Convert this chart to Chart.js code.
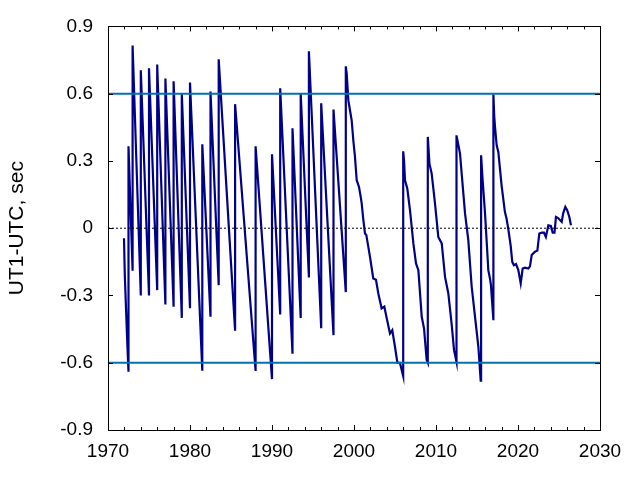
<!DOCTYPE html>
<html>
<head>
<meta charset="utf-8">
<script src="https://cdn.jsdelivr.net/npm/chart.js@4/dist/chart.umd.min.js"></script>
<style>
html,body{margin:0;padding:0;background:#fff;}
canvas{display:block;}
</style>
</head>
<body>
<canvas id="c" width="640" height="480"></canvas>
<script>
// Data
const years = [
 1971.95,1972.05,1972.2,1972.35,1972.5,
 1972.5,1973.0,
 1973.0,1974.0,
 1974.0,1975.0,
 1975.0,1976.0,
 1976.0,1977.0,
 1977.0,1978.0,
 1978.0,1979.0,
 1979.0,1980.0,
 1980.0,1981.5,
 1981.5,1982.5,
 1982.5,1983.5,
 1983.5,1985.5,
 1985.5,1988.0,
 1988.0,1990.0,
 1990.0,1991.0,
 1991.0,1992.5,
 1992.5,1993.5,
 1993.5,1994.5,
 1994.5,1996.0,
 1996.0,1997.5,
 1997.5,1999.0,
 1999.0,1999.11,1999.31,1999.51,1999.72,1999.92,2000.12,2000.33,2000.61,2000.82,2000.94,
 2001.13,2001.34,2001.5,2001.95,2002.35,2002.68,2002.96,2003.37,2003.7,2003.98,2004.39,
 2004.67,2005.0,2005.29,2005.6,2006.0,
 2006.0,2006.1,2006.22,2006.5,2006.83,2007.24,2007.56,2007.85,2008.26,2008.54,2008.86,2009.0,
 2009.0,2009.2,2009.47,2009.88,2010.28,2010.7,2011.1,2011.5,2011.9,2012.2,2012.5,
 2012.5,2012.93,2013.13,2013.54,2013.94,2014.35,2014.76,2015.17,2015.45,2015.5,
 2015.5,2015.69,2015.98,2016.38,2016.58,2016.7,2017.0,
 2017.0,2017.1,2017.2,2017.4,2017.6,2017.8,2018.0,2018.2,2018.4,2018.6,2018.8,
 2019.1,2019.3,2019.5,2019.76,2020.04,2020.33,2020.57,2020.85,2021.26,2021.46,2021.67,
 2022.07,2022.36,2022.6,2022.9,2023.17,2023.4,2023.7,2024.0,2024.23,2024.45,2024.63,
 2024.9,2025.33,2025.5,2025.77,2026.0,2026.26,2026.46
];
const ut1utc = [
 -0.045,-0.21,-0.36,-0.51,-0.64,
 0.365,-0.19,
 0.815,-0.30,
 0.704,-0.30,
 0.713,-0.276,
 0.73,-0.34,
 0.668,-0.35,
 0.655,-0.40,
 0.60,-0.357,
 0.65,-0.636,
 0.374,-0.395,
 0.61,-0.254,
 0.753,-0.457,
 0.553,-0.637,
 0.365,-0.673,
 0.33,-0.385,
 0.624,-0.56,
 0.446,-0.40,
 0.60,-0.22,
 0.789,-0.446,
 0.557,-0.477,
 0.529,-0.285,
 0.722,0.689,0.57,0.526,0.48,0.39,0.318,0.214,0.184,0.14,0.11,
 0.04,-0.024,-0.03,-0.128,-0.224,-0.23,-0.29,-0.358,-0.35,-0.40,-0.47,
 -0.455,-0.53,-0.60,-0.60,-0.66,
 0.343,0.303,0.214,0.177,0.08,-0.068,-0.157,-0.187,-0.395,-0.447,-0.588,-0.60,
 0.407,0.288,0.244,0.11,-0.039,-0.068,-0.217,-0.29,-0.425,-0.544,-0.596,
 0.414,0.333,0.244,0.066,-0.053,-0.26,-0.395,-0.53,-0.68,-0.68,
 0.325,0.214,0.066,-0.187,-0.224,-0.254,-0.41,
 0.597,0.50,0.45,0.37,0.34,0.266,0.19,0.132,0.073,0.043,0.0,
 -0.076,-0.15,-0.165,-0.16,-0.187,-0.246,-0.18,-0.176,-0.18,-0.17,-0.12,
 -0.105,-0.10,-0.024,-0.02,-0.02,-0.039,0.013,0.01,-0.02,-0.02,0.05,
 0.045,0.028,0.065,0.095,0.08,0.05,0.013
];
const xRange = [1970, 2030];
const limitLevels = [0.6, -0.6];
const zeroLevel = 0;
const yTickValues = [-0.9, -0.6, -0.3, 0, 0.3, 0.6, 0.9];
const xMajorTicks = [1970, 1980, 1990, 2000, 2010, 2020, 2030];

const FONT = "'Liberation Sans', Arial, sans-serif";

const seriesData = years.map((y, i) => ({x: y, y: ut1utc[i]}));

const framePlugin = {
  id: 'frame',
  afterDraw(chart) {
    const {ctx, chartArea: a, scales} = chart;
    const xs = scales.x, ys = scales.y;
    ctx.save();
    ctx.strokeStyle = '#000';
    ctx.lineWidth = 1;
    ctx.strokeRect(Math.round(a.left) + 0.5, Math.round(a.top) + 0.5,
                   Math.round(a.right - a.left), Math.round(a.bottom - a.top));
    ctx.beginPath();
    for (let v = xRange[0]; v <= xRange[1]; v += 2) {
      const px = Math.round(xs.getPixelForValue(v)) + 0.5;
      const len = xMajorTicks.includes(v) ? 5 : 3;
      ctx.moveTo(px, a.bottom); ctx.lineTo(px, a.bottom - len);
      ctx.moveTo(px, a.top); ctx.lineTo(px, a.top + len);
    }
    yTickValues.forEach(v => {
      const py = Math.round(ys.getPixelForValue(v)) + 0.5;
      ctx.moveTo(a.left, py); ctx.lineTo(a.left + 5, py);
      ctx.moveTo(a.right, py); ctx.lineTo(a.right - 5, py);
    });
    ctx.stroke();
    ctx.restore();
  }
};

new Chart(document.getElementById('c'), {
  type: 'line',
  data: {
    datasets: [
      {
        data: [{x: xRange[0], y: limitLevels[0]}, {x: xRange[1], y: limitLevels[0]}],
        borderColor: '#0072ae', borderWidth: 2, pointRadius: 0
      },
      {
        data: [{x: xRange[0], y: limitLevels[1]}, {x: xRange[1], y: limitLevels[1]}],
        borderColor: '#0072ae', borderWidth: 2, pointRadius: 0
      },
      {
        data: [{x: xRange[0], y: zeroLevel}, {x: xRange[1], y: zeroLevel}],
        borderColor: '#000', borderWidth: 1, borderDash: [2, 2], pointRadius: 0
      },
      {
        data: seriesData,
        borderColor: '#000088', borderWidth: 2.2, pointRadius: 0, tension: 0
      }
    ]
  },
  options: {
    responsive: false,
    animation: false,
    devicePixelRatio: 1,
    layout: {padding: {top: 26, right: 40, left: 0, bottom: 0}},
    plugins: {legend: {display: false}, tooltip: {enabled: false}},
    scales: {
      x: {
        type: 'linear',
        min: xRange[0], max: xRange[1],
        grid: {display: false, drawTicks: false},
        border: {display: false},
        afterFit: s => { s.height = 50; },
        afterBuildTicks: s => { s.ticks = xMajorTicks.map(v => ({value: v})); },
        ticks: {
          color: '#000', font: {family: FONT, size: 19}, padding: 10,
          maxRotation: 0, autoSkip: false,
          callback: v => String(v)
        }
      },
      y: {
        type: 'linear',
        min: -0.9, max: 0.9,
        grid: {display: false, drawTicks: false},
        border: {display: false},
        afterFit: s => { s.width = 108; },
        afterBuildTicks: s => { s.ticks = yTickValues.map(v => ({value: v})); },
        ticks: {
          color: '#000', font: {family: FONT, size: 19}, padding: 15,
          callback: v => Math.abs(v) < 1e-9 ? '0' : v.toFixed(1)
        },
        title: {
          display: true, text: 'UT1-UTC, sec', color: '#000',
          font: {family: FONT, size: 21}, padding: {top: 5, bottom: 0}
        }
      }
    }
  },
  plugins: [framePlugin]
});
</script>
</body>
</html>
